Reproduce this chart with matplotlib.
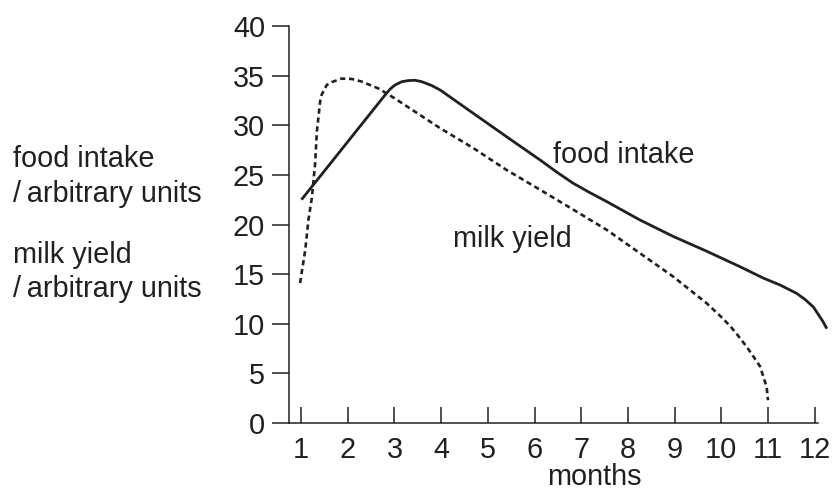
import matplotlib
matplotlib.use("Agg")
import matplotlib.pyplot as plt

plt.rcParams['font.family'] = ['Liberation Sans', 'DejaVu Sans']

# ---- data ----
food_months = [1.01, 2.80, 2.91, 3.01, 3.16, 3.30, 3.44, 3.58, 3.80, 3.98,
               4.69, 5.40, 6.12, 6.47, 6.83, 7.19, 7.55, 8.26, 8.97, 9.69,
               10.40, 10.90, 11.26, 11.61, 11.79, 11.97, 12.04, 12.11, 12.18, 12.26]
food_intake = [22.5, 33.05, 33.65, 34.05, 34.39, 34.5, 34.53, 34.4, 34.0, 33.55,
               31.2, 28.85, 26.5, 25.3, 24.15, 23.2, 22.3, 20.45, 18.8, 17.3,
               15.75, 14.6, 13.9, 13.07, 12.46, 11.7, 11.2, 10.7, 10.2, 9.5]

milk_months = [0.98, 1.09, 1.16, 1.23, 1.30, 1.34, 1.41, 1.44, 1.55, 1.66,
               1.87, 2.09, 2.30, 2.66, 3.01, 3.98, 4.69, 5.40, 6.12, 6.83,
               7.55, 8.26, 8.97, 9.69, 10.04, 10.22, 10.36, 10.54, 10.69, 10.83,
               10.90, 10.97, 11.0]
milk_yield = [14.1, 17.4, 20.5, 22.6, 26.0, 29.35, 32.4, 33.05, 34.05, 34.35,
              34.7, 34.66, 34.4, 33.7, 32.7, 29.7, 27.7, 25.5, 23.5, 21.5,
              19.45, 17.1, 14.75, 12.05, 10.5, 9.6, 8.8, 7.7, 6.68, 5.7,
              4.66, 3.66, 2.3]

x_ticks = list(range(1, 13))
y_ticks = list(range(0, 41, 5))

INK = '#231f20'
FS = 20.8

W, H = 836, 495
fig = plt.figure(figsize=(W / 100, H / 100), dpi=100)

x0, x1 = 0.743, 12.3
left_px, bottom_px = 289, 423
top_px = 26
right_px = left_px + (x1 - x0) * 46.7
ax = fig.add_axes([left_px / W, (H - bottom_px) / H,
                   (right_px - left_px) / W, (bottom_px - top_px) / H])
ax.set_xlim(x0, x1)
ax.set_ylim(0, 40)

ax.plot(food_months, food_intake, color=INK, lw=2.0, solid_capstyle='butt',
        solid_joinstyle='round', clip_on=False)
ax.plot(milk_months, milk_yield, color=INK, lw=1.9,
        linestyle=(0, (2.0, 1.4)), dash_capstyle='butt', clip_on=False)

for s in ['top', 'right']:
    ax.spines[s].set_visible(False)
for s in ['left', 'bottom']:
    ax.spines[s].set_linewidth(1.1)
    ax.spines[s].set_color(INK)
ax.spines['bottom'].set_bounds(x0, 12.06)

ax.set_xticks(x_ticks)
ax.set_yticks(y_ticks)
ax.tick_params(axis='x', direction='in', length=11.5, width=1.1, pad=9,
               labelsize=FS, colors=INK)
ax.tick_params(axis='y', direction='out', length=12.2, width=1.1, pad=5,
               labelsize=FS, colors=INK)

ax.set_xlabel('months', fontsize=FS, color=INK)
ax.xaxis.label.set_va('baseline')
ax.xaxis.set_label_coords((594 - left_px) / (right_px - left_px),
                          -(485 - bottom_px) / (bottom_px - top_px))

ax.text(6.40, 26.17, 'food intake', fontsize=FS, color=INK,
        ha='left', va='baseline')
ax.text(4.26, 17.7, 'milk yield', fontsize=FS, color=INK,
        ha='left', va='baseline')

left_labels = ['food intake', '/\u2009arbitrary units',
               'milk yield', '/\u2009arbitrary units']
baselines = [166.7, 202.0, 263.3, 297.0]
for lab, b in zip(left_labels, baselines):
    fig.text(13 / W, 1 - b / H, lab, fontsize=FS, color=INK,
             ha='left', va='baseline')

fig.savefig('out.png', dpi=100)
